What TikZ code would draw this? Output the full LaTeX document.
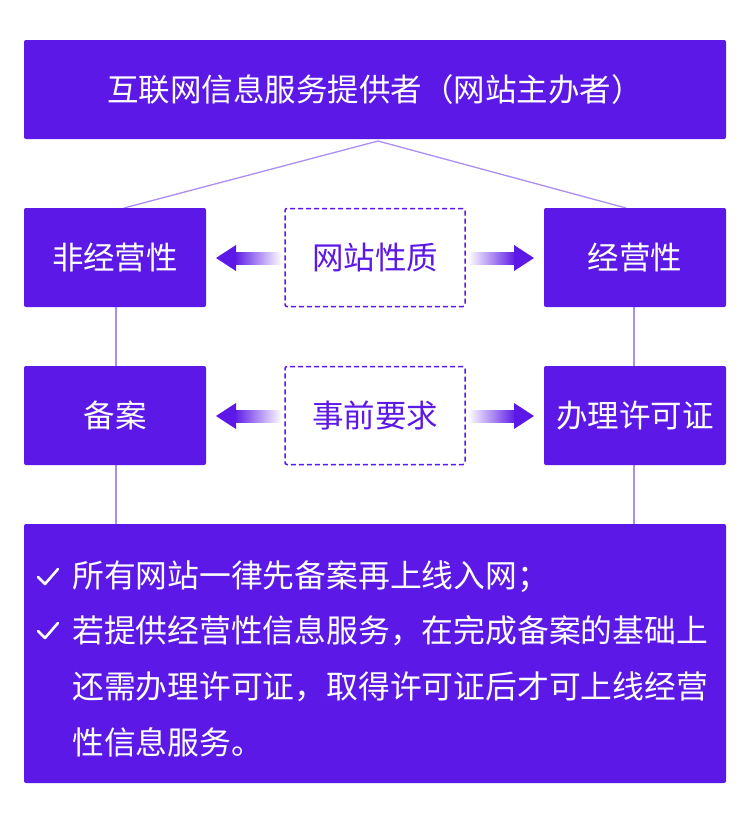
\documentclass[tikz,border=0pt]{standalone}
\usepackage{fontspec}
\setmainfont{Noto Sans CJK SC}
\definecolor{pp}{HTML}{5C18E6}
\definecolor{lp}{HTML}{AC8EF2}
\begin{document}
\begin{tikzpicture}[x=1pt,y=-1pt,
 solid box/.style={draw=none,fill=pp,rounded corners=2pt,text=white,font=\fontsize{31.5}{36}\selectfont},
 dash box/.style={draw=pp,dashed,line width=1.5pt,dash pattern=on 5pt off 3pt,rounded corners=2pt,text=pp,font=\fontsize{31.5}{36}\selectfont},
 link/.style={draw=lp,line width=1.3pt},
 txt/.style={text=white,anchor=west,font=\fontsize{31.8}{36}\selectfont,inner sep=0pt}]
\useasboundingbox (0,0) rectangle (750,820);
\fill[white] (0,0) rectangle (750,820);
\coordinate (apex) at (378,141);
\draw[link] (apex) -- (124,208);
\draw[link] (apex) -- (626,208);
\draw[link] (116,300) -- (116,530);
\draw[link] (634,300) -- (634,530);
\node[solid box,minimum width=702pt,minimum height=99pt] (top) at (375,89.5) {互联网信息服务提供者（网站主办者）};
\node[solid box,minimum width=182pt,minimum height=99pt] (nb) at (115,257.5) {非经营性};
\node[solid box,minimum width=182pt,minimum height=99pt] (jy) at (635,257.5) {经营性};
\node[dash box,minimum width=180pt,minimum height=98pt] (xz) at (375,257.5) {网站性质};
\node[solid box,minimum width=182pt,minimum height=99pt] (ba) at (115,415.5) {备案};
\node[solid box,minimum width=182pt,minimum height=99pt,inner sep=0pt] (xk) at (635,415.5) {办理许可证};
\node[dash box,minimum width=180pt,minimum height=98pt] (qq) at (375,415.5) {事前要求};
\node[solid box,minimum width=702pt,minimum height=259pt] (bot) at (375,653.5) {};
\foreach \y in {258,416}{
 \shade[left color=pp,right color=white] (234,\y-6) rectangle (282,\y+6);
 \fill[pp] (216,\y) -- (236,\y-13) -- (236,\y+13) -- cycle;
 \shade[left color=white,right color=pp] (468,\y-6) rectangle (516,\y+6);
 \fill[pp] (534,\y) -- (514,\y-13) -- (514,\y+13) -- cycle;
}
\foreach \y in {577,631}{
 \draw[white,line width=2.6pt,line cap=round,line join=round] (38,\y) -- (45,\y+7) -- (58,\y-8);
}
\node[txt] (l1) at (72,577) {所有网站一律先备案再上线入网；};
\node[txt] (l2) at (72,631) {若提供经营性信息服务，在完成备案的基础上};
\node[txt] (l3) at (72,687) {还需办理许可证，取得许可证后才可上线经营};
\node[txt] (l4) at (72,742) {性信息服务。};
\end{tikzpicture}
\end{document}
